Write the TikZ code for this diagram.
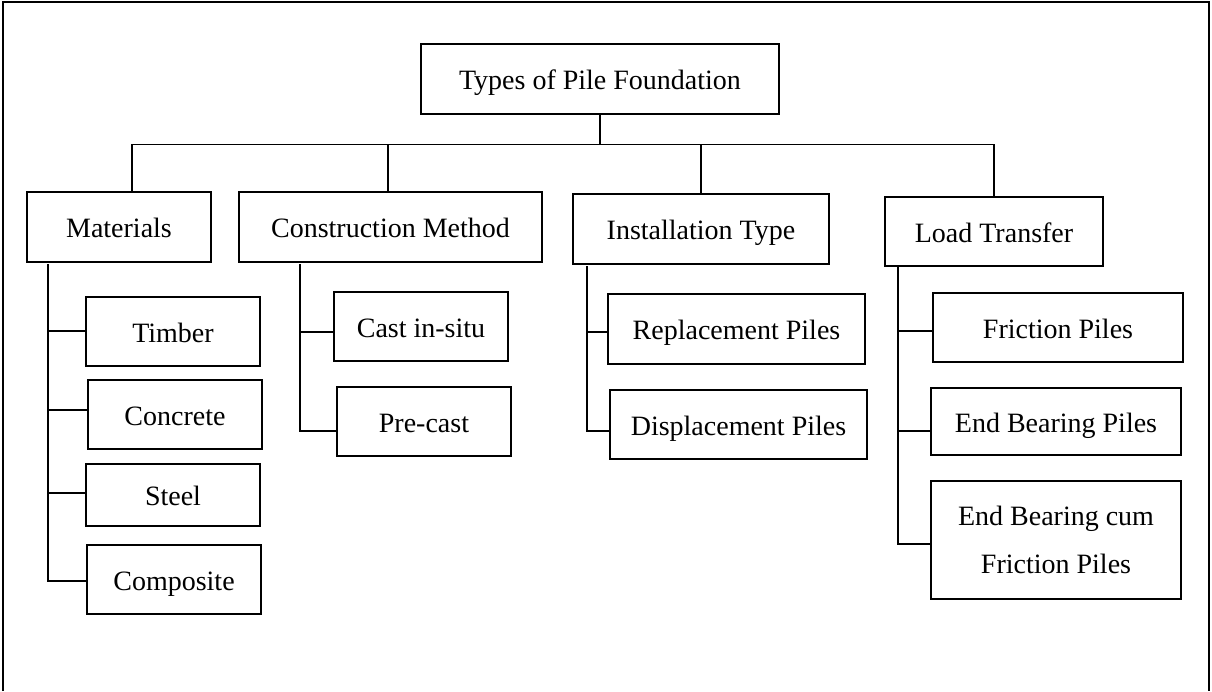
\documentclass[tikz,border=0pt]{standalone}
\usepackage{fontspec}
\setmainfont{Liberation Serif}
\begin{document}
\begin{tikzpicture}[x=1pt,y=-1pt,
  box/.style={draw,line width=1.3pt,inner sep=0pt,font=\fontsize{28}{33}\selectfont,
    text height=21pt,text depth=0pt,minimum height=69pt},
  twoline/.style={draw,line width=1.3pt,inner sep=0pt,align=center,
    font=\fontsize{28}{47.7}\selectfont},
  conn/.style={line width=1.3pt}]
\useasboundingbox (0,0) rectangle (1212,691);
\draw[line width=2.2pt] (3,691) -- (3,2) -- (1209,2) -- (1209,691);
% level 0
\node[box,minimum width=358pt,minimum height=70pt] (top) at (600,79) {Types of Pile Foundation};
% level 1
\node[box,minimum width=184pt,minimum height=70pt] (mat) at (119,227) {Materials};
\node[box,minimum width=303pt,minimum height=70pt] (con) at (390.5,227) {Construction Method};
\node[box,minimum width=256pt,minimum height=70pt] (inst) at (701,229) {Installation Type};
\node[box,minimum width=218pt] (load) at (994,231.5) {Load Transfer};
% materials
\node[box,minimum width=174pt] (timber) at (173,331.5) {Timber};
\node[box,minimum width=174pt] (concrete) at (175,414.5) {Concrete};
\node[box,minimum width=174pt,minimum height=62pt] (steel) at (173,495) {Steel};
\node[box,minimum width=174pt] (composite) at (174,579.5) {Composite};
% construction
\node[box,minimum width=174pt] (cast) at (421,326.5) {Cast in-situ};
\node[box,minimum width=174pt] (precast) at (424,421.5) {Pre-cast};
% installation
\node[box,minimum width=257pt,minimum height=70pt] (repl) at (736.5,329) {Replacement Piles};
\node[box,minimum width=257pt] (displ) at (738.5,424.5) {Displacement Piles};
% load transfer
\node[box,minimum width=250pt] (fric) at (1058,327.5) {Friction Piles};
\node[box,minimum width=250pt,minimum height=67pt] (endb) at (1056,421.5) {End Bearing Piles};
\node[twoline,minimum width=250pt,minimum height=118pt] (endfric) at (1056,540) {End Bearing cum\\Friction Piles};
% top bus
\draw[conn] (top.south) -- ++(0,30) coordinate (bus);
\draw[conn] ([xshift=13pt]mat.north) |- (bus) -| (load.north);
\draw[conn] (bus -| 388,0) -- (con.north -| 388,0);
\draw[conn] (bus -| inst.north) -- (inst.north);
% spines
\coordinate (ms) at (48,264);
\coordinate (cs) at (300,264);
\coordinate (is) at (587,266);
\coordinate (ls) at (898,266);
\draw[conn] (ms) |- (composite.west |- 0,581);
\draw[conn] (ms |- 0,331) -- (timber.west |- 0,331);
\draw[conn] (ms |- 0,410) -- (concrete.west |- 0,410);
\draw[conn] (ms |- 0,493) -- (steel.west |- 0,493);
\draw[conn] (cs) |- (precast.west |- 0,431);
\draw[conn] (cs |- 0,332) -- (cast.west |- 0,332);
\draw[conn] (is) |- (displ.west |- 0,431);
\draw[conn] (is |- 0,332) -- (repl.west |- 0,332);
\draw[conn] (ls) |- (endfric.west |- 0,544);
\draw[conn] (ls |- 0,331) -- (fric.west |- 0,331);
\draw[conn] (ls |- 0,431) -- (endb.west |- 0,431);
\end{tikzpicture}
\end{document}
